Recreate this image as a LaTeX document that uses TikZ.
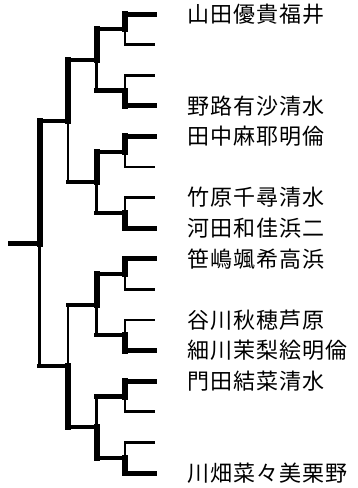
\documentclass[tikz,border=0pt]{standalone}
\usepackage{fontspec}
\newfontfamily\jp[LetterSpace=5]{Noto Sans CJK JP}
\begin{document}
\begin{tikzpicture}[x=1pt,y=-1pt,
  thk/.style={line width=6pt,line cap=rect},
  leafthk/.style={line width=5pt,line cap=rect},
  thn/.style={line width=2.7pt,line cap=rect},
  hor/.style={line width=4.3pt,line cap=rect},
  lbl/.style={anchor=west,inner sep=0pt,font=\jp\fontsize{22pt}{22pt}\selectfont}]
\useasboundingbox (0,0) rectangle (358,488);
% leaves
\foreach \i/\y in {1/14.0,2/44.6,3/75.2,4/105.8,5/136.4,6/167.0,7/197.6,8/228.2,9/258.8,10/289.4,11/320.0,12/350.6,13/381.2,14/411.8,15/442.4,16/473.0}{
  \coordinate (l\i) at (154,\y);
  \coordinate (v\i) at (125,\y);
}
% round 1
\foreach \m/\y in {1/29.3,2/90.5,3/151.7,4/212.9,5/274.1,6/335.3,7/396.5,8/457.7}{
  \coordinate (m\m) at (125,\y);
  \coordinate (h\m) at (96.5,\y);
}
% round 2
\foreach \q/\y in {1/59.9,2/182.3,3/304.7,4/427.1}{
  \coordinate (q\q) at (96.5,\y);
  \coordinate (g\q) at (68,\y);
}
% round 3
\foreach \r/\y in {1/121.1,2/365.9}{
  \coordinate (r\r) at (68,\y);
  \coordinate (s\r) at (39.5,\y);
}
\coordinate (root) at (39.5,243.5);
\coordinate (rootend) at (10.5,243.5);

% names
\node[lbl] (n1) at (187,14.0) {山田優貴福井};
\node[lbl] (n4) at (187,105.8) {野路有沙清水};
\node[lbl] (n5) at (187,136.4) {田中麻耶明倫};
\node[lbl] (n7) at (187,197.6) {竹原千尋清水};
\node[lbl] (n8) at (187,228.2) {河田和佳浜二};
\node[lbl] (n9) at (187,258.8) {笹嶋颯希高浜};
\node[lbl] (n11) at (187,320.0) {谷川秋穂芦原};
\node[lbl] (n12) at (187,350.6) {細川茉梨絵明倫};
\node[lbl] (n13) at (187,381.2) {門田結菜清水};
\node[lbl] (n16) at (187,473.0) {川畑菜々美栗野};

% thin leaves and verticals (losers)
\foreach \i/\m in {2/1,3/2,6/3,7/4,10/5,11/6,14/7,15/8}{
  \draw[thn] (l\i) -- (v\i) -- (m\m);
}
% winners round 1
\foreach \i/\m in {1/1,4/2,5/3,8/4,9/5,12/6,13/7,16/8}{
  \draw[leafthk] (l\i) -- (v\i);
  \draw[thk] (v\i) -- (m\m);
}
% horizontals round 1
\foreach \m in {1,...,8}{\draw[hor] (m\m) -- (h\m);}
% round 2 verticals
\draw[thk] (h1) -- (q1); \draw[thn] (h2) -- (q1);
\draw[thk] (h3) -- (q2); \draw[thn] (h4) -- (q2);
\draw[thk] (h5) -- (q3); \draw[thn] (h6) -- (q3);
\draw[thn] (h7) -- (q4); \draw[thk] (h8) -- (q4);
\foreach \q in {1,...,4}{\draw[hor] (q\q) -- (g\q);}
% round 3 verticals
\draw[thk] (g1) -- (r1); \draw[thn] (g2) -- (r1);
\draw[thn] (g3) -- (r2); \draw[thk] (g4) -- (r2);
\foreach \r in {1,2}{\draw[hor] (r\r) -- (s\r);}
% final
\draw[thk] (s1) -- (root); \draw[thn] (s2) -- (root);
\draw[hor] (root) -- (rootend);
\end{tikzpicture}
\end{document}
